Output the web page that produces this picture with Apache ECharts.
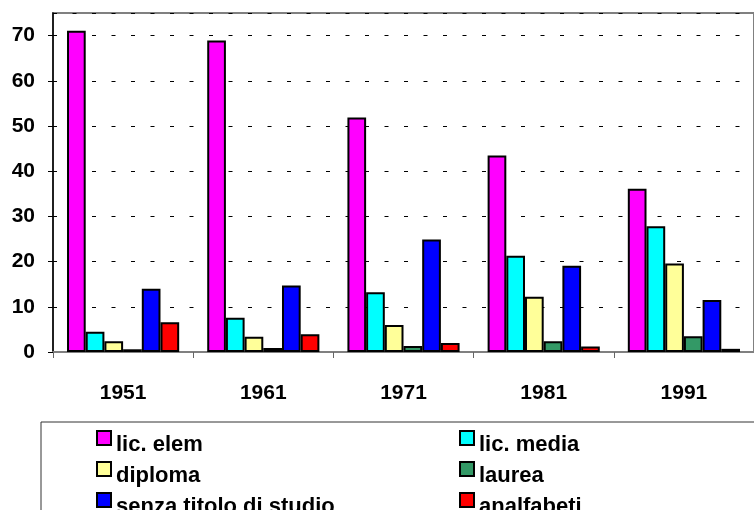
<!DOCTYPE html>
<html>
<head>
<meta charset="utf-8">
<script src="https://cdn.jsdelivr.net/npm/echarts@6/dist/echarts.min.js"></script>
<style>
  html, body { margin: 0; padding: 0; background: #fff; }
  #chart { width: 754px; height: 510px; }
</style>
</head>
<body>
<div id="chart"></div>
<script>
// dati
const years = ['1951', '1961', '1971', '1981', '1991'];
const licElem = [71.1, 68.9, 51.9, 43.5, 36.1];
const licMedia = [4.5, 7.6, 13.2, 21.3, 27.8];
const diploma = [2.4, 3.4, 6.0, 12.2, 19.6];
const laurea = [0.6, 0.9, 1.3, 2.4, 3.5];
const senzaTitolo = [14.0, 14.7, 24.9, 19.1, 11.5];
const analfabeti = [6.6, 3.9, 2.0, 1.2, 0.7];

const names = ['lic. elem', 'lic. media', 'diploma', 'laurea', 'senza titolo di studio', 'analfabeti'];
const values = [licElem, licMedia, diploma, laurea, senzaTitolo, analfabeti];
const colors = ['#ff00ff', '#00ffff', '#ffff99', '#339966', '#0000ff', '#ff0000'];

const font = 'Liberation Sans, Arial, sans-serif';

// legenda a due colonne: una legenda per voce
const legendPos = [
  [96, 0], [459, 0],
  [96, 1], [459, 1],
  [96, 2], [459, 2]
];
const legends = names.map((n, i) => ({
  data: [{ name: n, icon: 'rect' }],
  left: legendPos[i][0],
  top: 430 + legendPos[i][1] * 31,
  padding: 0,
  itemWidth: 14,
  itemHeight: 14,
  selectedMode: false,
  formatter: '{t|{name}}',
  textStyle: {
    fontFamily: font, fontWeight: 'bold', fontSize: 22, color: '#000',
    rich: {
      t: {
        fontFamily: font, fontWeight: 'bold', fontSize: 22, color: '#000',
        padding: [14, 0, 0, 0]
      }
    }
  }
}));

const chart = echarts.init(document.getElementById('chart'));
chart.setOption({
  animation: false,
  color: colors,
  grid: {
    left: 53, right: -3, top: 13, bottom: 158,
    show: true, borderColor: '#808080', borderWidth: 2
  },
  legend: legends,
  graphic: [{
    type: 'rect',
    shape: { x: 41, y: 422, width: 800, height: 200 },
    style: { fill: 'none', stroke: '#333', lineWidth: 1 },
    z: -1
  }],
  xAxis: {
    type: 'category',
    data: years,
    axisLine: { lineStyle: { color: '#808080', width: 2 } },
    axisTick: { show: true, length: 6, lineStyle: { color: '#666' } },
    axisLabel: {
      margin: 31, fontFamily: font, fontWeight: 'bold', fontSize: 21, color: '#000'
    }
  },
  yAxis: {
    type: 'value',
    min: 0, max: 75, interval: 10,
    axisLine: { show: true, lineStyle: { color: '#000', width: 1.5 } },
    axisTick: { show: true, length: 5, lineStyle: { color: '#000' } },
    axisLabel: {
      margin: 18, showMaxLabel: false,
      fontFamily: font, fontWeight: 'bold', fontSize: 21, color: '#000'
    },
    splitLine: { lineStyle: { color: '#000', type: [4, 15.5], width: 1 } }
  },
  series: names.map((n, i) => ({
    name: n,
    type: 'bar',
    data: values[i],
    barGap: '0%',
    barCategoryGap: '20%',
    itemStyle: { color: colors[i], borderColor: '#000', borderWidth: 2 }
  }))
});
</script>
</body>
</html>
